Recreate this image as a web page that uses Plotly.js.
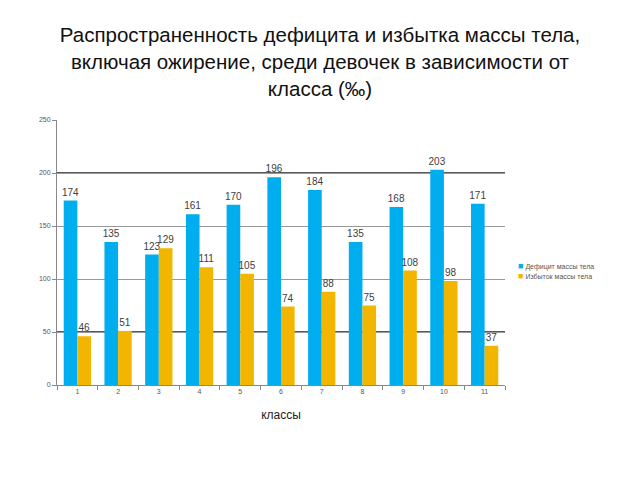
<!DOCTYPE html>
<html><head><meta charset="utf-8">
<script src="https://cdn.plot.ly/plotly-3.0.1.min.js"></script>
<style>body{margin:0;background:#fff}#c{width:640px;height:480px}</style>
</head><body><div id="c"></div>
<script>
const categories = ["1","2","3","4","5","6","7","8","9","10","11"];
const deficit = [174,135,123,161,170,196,184,135,168,203,171];
const excess = [46,51,129,111,105,74,88,75,108,98,37];
const seriesNames = ["Дефицит массы тела","Избыток массы тела"];
const seriesColors = ["#00AEEF","#F2B600"];
const yTicks = [0,50,100,150,200,250];
const darkLines = [50,200];

const FF = "Liberation Sans, Arial, sans-serif";
const labelFont = {family:FF, size:10, color:"#404040"};
const traces = [deficit, excess].map((vals,i)=>({
  type:"bar", name:seriesNames[i], x:categories, y:vals, marker:{color:seriesColors[i]},
  text:vals.map(String), textposition:"outside", constraintext:"none", textfont:labelFont, cliponaxis:false, showlegend:false
}));
const legendAnn = [];
seriesNames.forEach((n,i)=>{
  legendAnn.push({xref:"paper", yref:"paper", x:1.025, y:0.45-i*0.04, xanchor:"left", yanchor:"middle",
    text:'<span style="color:'+seriesColors[i]+';font-size:9px">■</span> '+n, showarrow:false,
    font:{family:FF, size:7, color:"#555"}});
});
const layout = {
  width:640, height:480, paper_bgcolor:"#fff", plot_bgcolor:"#fff",
  margin:{l:57, r:135, t:120, b:95},
  title:{text:"Распространенность дефицита и избытка массы тела,<br>включая ожирение, среди девочек в зависимости от<br>класса (‰)",
    font:{family:FF, size:20.5, color:"#111"}, x:0.5, xanchor:"center", yref:"container", y:0.912, yanchor:"middle"},
  barmode:"group", bargap:0.33, bargroupgap:0,
  xaxis:{type:"category", showline:true, linecolor:"#888", linewidth:1, ticks:"outside", tickson:"boundaries",
    ticklen:4, tickcolor:"#888", tickfont:{family:FF, size:7, color:"#555"},
    title:{text:"классы", font:{family:FF, size:12, color:"#222"}, standoff:16}},
  yaxis:{range:[0,250], tickvals:yTicks, showline:true, linecolor:"#888", linewidth:1, ticks:"outside", ticklen:4,
    tickcolor:"#888", gridcolor:"#999", gridwidth:1, zeroline:false,
    tickfont:{family:FF, size:7, color:"#555"}},
  shapes: darkLines.map(v=>({type:"line", xref:"paper", x0:0, x1:1, yref:"y", y0:v, y1:v, line:{color:"#222", width:1.5}, layer:"below"})),
  annotations: legendAnn,
  showlegend:false
};
Plotly.newPlot("c", traces, layout, {displayModeBar:false, staticPlot:true});
</script>
</body></html>
